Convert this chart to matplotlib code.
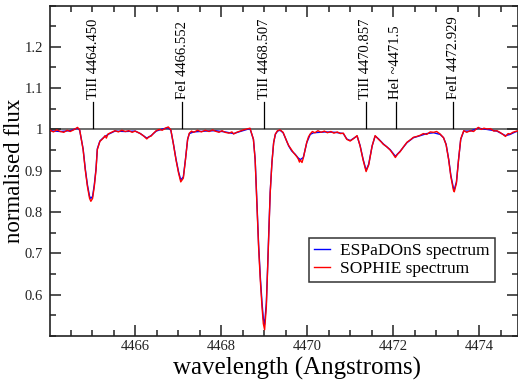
import matplotlib
matplotlib.use("Agg")
import matplotlib.pyplot as plt
from matplotlib.ticker import MultipleLocator

plt.rcParams["font.family"] = ["Liberation Serif", "DejaVu Serif"]

# ESPaDOnS spectrum (blue)
wl_espadons = [
    4464.02, 4464.26, 4464.49, 4464.66, 4464.71, 4464.79, 4464.84, 4464.89,
    4464.94, 4464.97, 4465.01, 4465.05, 4465.09, 4465.12, 4465.18, 4465.26,
    4465.37, 4465.53, 4465.77, 4466.00, 4466.12, 4466.27, 4466.37, 4466.49,
    4466.63, 4466.77, 4466.83, 4466.89, 4466.95, 4467.01, 4467.06, 4467.12,
    4467.17, 4467.22, 4467.26, 4467.36, 4467.63, 4467.86, 4468.09, 4468.29,
    4468.44, 4468.60, 4468.67, 4468.75, 4468.79, 4468.83, 4468.87, 4468.91,
    4468.95, 4468.98, 4469.01, 4469.05, 4469.08, 4469.11, 4469.14, 4469.18,
    4469.22, 4469.26, 4469.31, 4469.37, 4469.44, 4469.49, 4469.57, 4469.64,
    4469.72, 4469.79, 4469.84, 4469.91, 4469.99, 4470.07, 4470.15, 4470.42,
    4470.65, 4470.84, 4470.92, 4471.00, 4471.16, 4471.23, 4471.30, 4471.37,
    4471.43, 4471.51, 4471.58, 4471.66, 4471.77, 4471.93, 4472.05, 4472.16,
    4472.32, 4472.47, 4472.63, 4472.78, 4472.94, 4473.09, 4473.17, 4473.23,
    4473.29, 4473.34, 4473.40, 4473.42, 4473.47, 4473.52, 4473.57, 4473.64,
    4473.79, 4473.98, 4474.18, 4474.41, 4474.61, 4474.72, 4474.84, 4474.91,
]
flux_espadons = [
    0.997, 0.995, 0.997, 1.003, 0.998, 0.953, 0.905, 0.866,
    0.838, 0.833, 0.838, 0.866, 0.905, 0.953, 0.972, 0.980,
    0.988, 0.996, 0.995, 0.996, 0.990, 0.979, 0.985, 0.996,
    1.001, 1.004, 0.998, 0.965, 0.928, 0.897, 0.878, 0.885,
    0.928, 0.976, 0.990, 0.994, 0.996, 0.997, 0.994, 0.990,
    0.995, 1.000, 1.002, 0.976, 0.928, 0.826, 0.722, 0.643,
    0.580, 0.542, 0.528, 0.580, 0.666, 0.761, 0.848, 0.920,
    0.968, 0.988, 0.996, 0.998, 0.992, 0.980, 0.960, 0.948,
    0.940, 0.931, 0.927, 0.932, 0.968, 0.988, 0.992, 0.994,
    0.993, 0.990, 0.977, 0.973, 0.984, 0.961, 0.928, 0.901,
    0.916, 0.960, 0.984, 0.977, 0.965, 0.951, 0.935, 0.947,
    0.968, 0.980, 0.985, 0.990, 0.992, 0.988, 0.980, 0.964,
    0.928, 0.889, 0.858, 0.854, 0.873, 0.928, 0.976, 0.996,
    0.996, 1.003, 1.000, 0.996, 0.985, 0.988, 0.994, 0.996,
]

# SOPHIE spectrum (red), noisier
wl_sophie = [
    4464.02, 4464.10, 4464.18, 4464.26, 4464.34, 4464.42, 4464.49, 4464.57,
    4464.66, 4464.71, 4464.79, 4464.84, 4464.89, 4464.94, 4464.97, 4465.01,
    4465.05, 4465.09, 4465.12, 4465.18, 4465.22, 4465.26, 4465.30, 4465.33,
    4465.37, 4465.45, 4465.53, 4465.61, 4465.69, 4465.77, 4465.85, 4465.93,
    4466.00, 4466.06, 4466.12, 4466.20, 4466.27, 4466.32, 4466.37, 4466.43,
    4466.49, 4466.56, 4466.63, 4466.70, 4466.77, 4466.83, 4466.89, 4466.95,
    4467.01, 4467.06, 4467.12, 4467.17, 4467.22, 4467.26, 4467.31, 4467.36,
    4467.45, 4467.54, 4467.63, 4467.72, 4467.80, 4467.86, 4467.95, 4468.02,
    4468.09, 4468.18, 4468.25, 4468.29, 4468.36, 4468.44, 4468.52, 4468.60,
    4468.67, 4468.75, 4468.79, 4468.83, 4468.87, 4468.91, 4468.95, 4468.98,
    4469.01, 4469.05, 4469.08, 4469.11, 4469.14, 4469.18, 4469.22, 4469.26,
    4469.31, 4469.37, 4469.44, 4469.49, 4469.53, 4469.57, 4469.64, 4469.68,
    4469.72, 4469.76, 4469.79, 4469.82, 4469.84, 4469.88, 4469.91, 4469.95,
    4469.99, 4470.03, 4470.07, 4470.12, 4470.18, 4470.25, 4470.32, 4470.40,
    4470.47, 4470.55, 4470.62, 4470.70, 4470.77, 4470.84, 4470.92, 4471.00,
    4471.08, 4471.16, 4471.23, 4471.30, 4471.37, 4471.43, 4471.51, 4471.58,
    4471.66, 4471.72, 4471.77, 4471.85, 4471.93, 4472.00, 4472.05, 4472.10,
    4472.16, 4472.24, 4472.32, 4472.40, 4472.47, 4472.55, 4472.63, 4472.70,
    4472.78, 4472.86, 4472.94, 4473.01, 4473.09, 4473.17, 4473.23, 4473.29,
    4473.34, 4473.40, 4473.42, 4473.47, 4473.52, 4473.57, 4473.64, 4473.71,
    4473.79, 4473.87, 4473.94, 4473.98, 4474.05, 4474.11, 4474.18, 4474.26,
    4474.34, 4474.41, 4474.48, 4474.55, 4474.61, 4474.67, 4474.72, 4474.78,
    4474.84, 4474.91,
]
flux_sophie = [
    0.998, 0.994, 0.999, 0.995, 0.993, 0.998, 0.995, 0.999,
    1.005, 0.999, 0.951, 0.902, 0.862, 0.833, 0.826, 0.833,
    0.862, 0.902, 0.951, 0.971, 0.975, 0.979, 0.985, 0.979,
    0.989, 0.993, 0.997, 0.994, 0.998, 0.995, 0.997, 0.993,
    0.996, 0.993, 0.990, 0.984, 0.977, 0.982, 0.984, 0.991,
    0.997, 1.000, 0.998, 1.003, 1.006, 0.999, 0.964, 0.926,
    0.894, 0.873, 0.882, 0.927, 0.976, 0.991, 0.996, 0.993,
    0.998, 0.994, 0.998, 0.995, 0.999, 0.996, 0.993, 0.997,
    0.993, 0.991, 0.994, 0.989, 0.993, 0.996, 0.999, 1.001,
    1.003, 0.976, 0.926, 0.822, 0.716, 0.635, 0.570, 0.530,
    0.515, 0.570, 0.660, 0.757, 0.847, 0.919, 0.968, 0.989,
    0.997, 0.999, 0.993, 0.980, 0.970, 0.961, 0.950, 0.944,
    0.939, 0.934, 0.929, 0.921, 0.926, 0.920, 0.931, 0.950,
    0.969, 0.982, 0.989, 0.995, 0.992, 0.997, 0.993, 0.996,
    0.992, 0.995, 0.991, 0.994, 0.990, 0.991, 0.976, 0.972,
    0.978, 0.985, 0.960, 0.926, 0.898, 0.914, 0.960, 0.985,
    0.976, 0.970, 0.964, 0.958, 0.950, 0.940, 0.932, 0.940,
    0.946, 0.958, 0.969, 0.975, 0.981, 0.983, 0.986, 0.990,
    0.988, 0.994, 0.993, 0.995, 0.989, 0.980, 0.963, 0.926,
    0.886, 0.853, 0.849, 0.870, 0.927, 0.977, 0.997, 0.993,
    0.997, 0.995, 1.002, 1.005, 1.000, 1.003, 1.001, 1.002,
    0.996, 0.997, 0.993, 0.988, 0.983, 0.990, 0.989, 0.993,
    0.995, 0.997,
]

# line identifications: label text and observed position
line_labels = ["TiII 4464.450", "FeI 4466.552", "TiII 4468.507",
               "TiII 4470.857", "HeI ~4471.5", "FeII 4472.929"]
line_positions = [4465.02, 4467.09, 4469.00, 4471.36, 4472.06, 4473.40]

fig = plt.figure(figsize=(5.18, 3.82), dpi=100)
ax = fig.add_axes([50 / 518, 46 / 382, 467.5 / 518, 330.5 / 382])

ax.axhline(1.0, color="#555555", linewidth=1.2, zorder=1)
ax.plot(wl_espadons, flux_espadons, color="blue", linewidth=1.0,
        label="ESPaDOnS spectrum", zorder=2)
ax.plot(wl_sophie, flux_sophie, color="red", linewidth=1.0,
        label="SOPHIE spectrum", zorder=3)

for lab, pos in zip(line_labels, line_positions):
    ax.plot([pos, pos], [1.004, 1.066], color="black", linewidth=0.9)
    ax.text(pos, 1.074, lab, rotation=90, ha="center", va="bottom",
            fontsize=10.5)

ax.set_xlim(4464.02, 4474.89)
ax.set_ylim(0.5, 1.3)
ax.xaxis.set_major_locator(MultipleLocator(2))
ax.xaxis.set_minor_locator(MultipleLocator(0.5))
ax.yaxis.set_minor_locator(MultipleLocator(0.05))
ax.set_yticks([0.6, 0.7, 0.8, 0.9, 1.0, 1.1, 1.2])
ax.set_yticklabels(["0.6", "0.7", "0.8", "0.9", "1", "1.1", "1.2"])

ax.tick_params(which="both", direction="in", top=True, right=True,
               width=1.1, labelsize=10.5, colors="#222222")
ax.tick_params(which="major", length=8)
ax.tick_params(axis="x", which="major", pad=3)
ax.tick_params(axis="y", which="major", pad=5)
ax.tick_params(which="minor", length=4)
for sp in ax.spines.values():
    sp.set_linewidth(1.2)
    sp.set_color("#222222")

ax.set_xlabel("wavelength (Angstroms)", fontsize=18)
ax.xaxis.set_label_coords(0.528, -0.097, transform=ax.transAxes)
ax.xaxis.label.set_va("center")
ax.set_ylabel("normalised flux", fontsize=16.5)
ax.yaxis.set_label_coords(-0.053, 0.5, transform=ax.transAxes)

leg = ax.legend(loc="lower left", bbox_to_anchor=(0.554, 0.163),
                fontsize=12.5, frameon=True, fancybox=False,
                handlelength=0.9, handletextpad=0.6, borderpad=0.3,
                labelspacing=0.1, borderaxespad=0)
leg.get_frame().set_edgecolor("black")
leg.get_frame().set_linewidth(1.1)

fig.savefig("out.png", dpi=100)
